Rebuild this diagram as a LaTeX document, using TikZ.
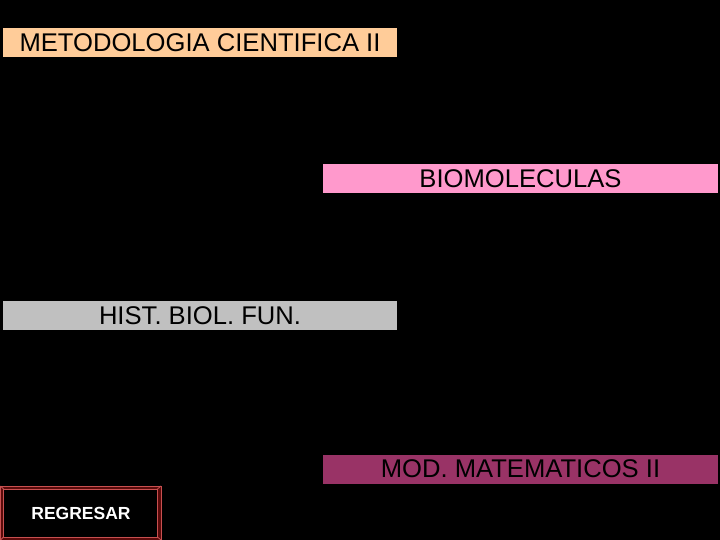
\documentclass[tikz,border=0pt]{standalone}
\usepackage{fontspec}
\setmainfont{Liberation Sans}
\definecolor{peach}{HTML}{FFCC99}
\definecolor{rosa}{HTML}{FF99CC}
\definecolor{gris}{HTML}{C0C0C0}
\definecolor{vino}{HTML}{993366}
\definecolor{btnline}{HTML}{C85050}
\definecolor{btnband}{HTML}{5A0A0A}

\begin{document}
\begin{tikzpicture}[x=1pt,y=-1pt]
   \fill[black] (0,0) rectangle (720,540);
   \useasboundingbox (0,0) rectangle (720,540);
   \begin{scope}[every node/.style={rectangle,inner sep=0pt,minimum width=394.5pt,minimum height=29pt,text=black,font=\fontsize{25.6}{26}\selectfont}]
    \node[fill=peach] (metodo) at (200,42.5) {METODOLOGIA CIENTIFICA II};
    \node[fill=rosa] (biomol) at (520.5,179) {BIOMOLECULAS};
    \node[fill=gris] (hist) at (200,315.5) {HIST. BIOL. FUN.};
    \node[fill=vino] (modmat) at (520.5,469) {MOD. MATEMATICOS II};
   \end{scope}
   \begin{scope}[draw=btnline,line width=0.8pt]
    \fill[btnband] (0.5,486) rectangle (161,540);
    \fill[black] (3.5,489) rectangle (157.5,537);
    \draw[btnline] (0.5,486) rectangle (161,540);
    \draw[btnline] (3.5,489) rectangle (157.5,537);
    \draw[btnline] (0.5,486) -- (3.5,489);
    \draw[btnline] (161,486) -- (157.5,489);
    \draw[btnline] (161,540) -- (157.5,537);
    \draw[btnline] (0.5,540) -- (3.5,537);
   \end{scope}
   \node[text=white,inner sep=0pt,font=\bfseries\fontsize{17.5}{18}\selectfont] (regresar) at (81,513) {REGRESAR};
\end{tikzpicture}
\end{document}
